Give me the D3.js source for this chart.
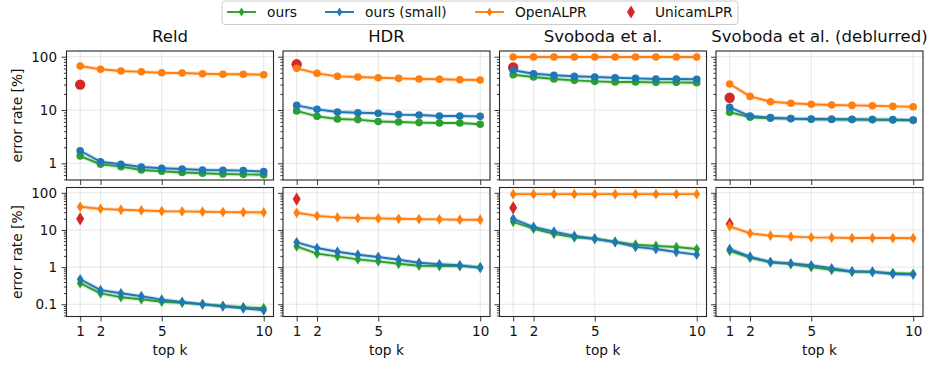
<!DOCTYPE html>
<html><head><meta charset="utf-8">
<script src="https://cdn.jsdelivr.net/npm/d3@7"></script>
<style>
body{margin:0;background:#fff;}
svg{display:block;font-family:"DejaVu Sans",sans-serif;}
</style></head>
<body><svg id="c" width="931" height="365"></svg>
<script>
const ks = [1,2,3,4,5,6,7,8,9,10];
const panelTitles = ["Reld","HDR","Svoboda et al.","Svoboda et al. (deblurred)"];
const seriesNames = ["ours","ours (small)","OpenALPR","UnicamLPR"];
const xTickValues = [1,2,5,10];
const yTickValuesTop = [1,10,100];
const yTickValuesBottom = [0.1,1,10,100];

// top row (circles)
const oursTop = [
  [1.37,0.96,0.865,0.75,0.71,0.67,0.65,0.63,0.62,0.61],
  [9.6,7.6,6.8,6.6,6.1,5.96,5.8,5.7,5.7,5.4],
  [45.9,41.6,38.2,36,34.5,33.5,33.5,33,33,32.5],
  [9.1,7.3,7.0,6.9,6.7,6.7,6.6,6.6,6.5,6.4]
];
const smallTop = [
  [1.72,1.07,0.96,0.85,0.81,0.78,0.75,0.74,0.73,0.70],
  [12.2,10.3,9.2,8.9,8.7,8.2,8.06,7.7,7.7,7.6],
  [55.6,48,44.8,42.9,41.6,40.4,39.3,38.2,38.2,37.7],
  [11.2,7.7,7.2,6.9,6.8,6.7,6.7,6.6,6.6,6.5]
];
const openTop = [
  [67,58,54,52,50,49.4,48,47,46.8,46],
  [60.5,48.8,42.8,41.6,40.4,39.3,38.2,37.7,37,36.6],
  [99,99,99,99,99,99,99,99,99,99],
  [30.8,18,14.3,13.4,12.8,12.4,12.2,12.05,11.7,11.5]
];
const unicamTop = [30,72,63,17];

// bottom row (diamonds)
const oursBot = [
  [0.37,0.197,0.155,0.136,0.117,0.11,0.10,0.09,0.083,0.078],
  [3.6,2.3,1.95,1.62,1.43,1.23,1.09,1.07,1.07,1.0],
  [16.6,10.8,7.9,6.3,5.8,4.8,4.0,3.7,3.47,3.06],
  [2.75,1.79,1.35,1.21,1.0,0.84,0.75,0.74,0.69,0.66]
];
const smallBot = [
  [0.47,0.24,0.197,0.164,0.133,0.115,0.10,0.088,0.078,0.069],
  [4.65,3.26,2.6,2.15,1.87,1.58,1.31,1.19,1.12,0.95],
  [20,12,9.0,6.9,5.8,4.7,3.5,3.06,2.55,2.16],
  [3.06,1.9,1.37,1.26,1.12,0.93,0.77,0.75,0.65,0.63]
];
const openBot = [
  [42,37,35,33.6,32,31.6,31,30.3,30,29.7],
  [29,24,21.8,20.9,20.5,20,19.6,19.3,18.8,18.8],
  [92,92,92,92,92,92,92,92,92,92],
  [12.5,8.1,7.0,6.6,6.3,6.2,6.05,6.05,6.05,6.0]
];
const unicamBot = [20,68,39.5,14.5];

const colors = {ours:"#2ca02c", small:"#1f77b4", open:"#ff7f0e", unicam:"#d62728"};

const svg = d3.select("#c");
const panelW = 207, panelStep = 216.5, panelX0 = 66.5;
const rows = [
  {y0:51, y1:180, dom:[0.486,128], ticks:yTickValuesTop, marker:"circle",
   ours:oursTop, small:smallTop, open:openTop, uni:unicamTop},
  {y0:187.5, y1:316.5, dom:[0.0468,139], ticks:yTickValuesBottom, marker:"diamond",
   ours:oursBot, small:smallBot, open:openBot, uni:unicamBot}
];
const fmt = v => (v >= 1 ? d3.format("d")(v) : String(v));
const diamond = (w,h) => `M0,${-h}L${w},0L0,${h}L${-w},0Z`;

function minorTicks(dom){
  const out=[];
  for(let e=-3;e<=3;e++){
    for(let m=2;m<=9;m++){
      const v=m*Math.pow(10,e);
      if(v>=dom[0]&&v<=dom[1]) out.push(v);
    }
  }
  return out;
}

rows.forEach((row, ri) => {
  for(let p=0;p<4;p++){
    const x0 = panelX0 + p*panelStep;
    const x = d3.scaleLinear().domain([0.33,10.48]).range([x0, x0+panelW]);
    const y = d3.scaleLog().domain(row.dom).range([row.y1, row.y0]);
    const g = svg.append("g");

    // grid
    g.append("g").selectAll("line").data(row.ticks).join("line")
      .attr("x1",x0).attr("x2",x0+panelW).attr("y1",d=>y(d)).attr("y2",d=>y(d))
      .attr("stroke","#b0b0b0").attr("stroke-opacity",0.35).attr("stroke-width",0.9);
    g.append("g").selectAll("line").data(xTickValues).join("line")
      .attr("y1",row.y0).attr("y2",row.y1).attr("x1",d=>x(d)).attr("x2",d=>x(d))
      .attr("stroke","#b0b0b0").attr("stroke-opacity",0.35).attr("stroke-width",0.9);

    // y axis
    const ya = d3.axisLeft(y).tickValues(row.ticks).tickSize(5).tickPadding(4.5)
      .tickFormat(p===0 ? fmt : () => "");
    const yag = g.append("g").attr("transform",`translate(${x0},0)`).call(ya);
    const ym = d3.axisLeft(y).tickValues(minorTicks(row.dom)).tickSize(2.6).tickFormat(()=>"");
    const ymg = g.append("g").attr("transform",`translate(${x0},0)`).call(ym);
    [yag,ymg].forEach(a=>{a.select(".domain").remove(); a.selectAll("line").attr("stroke","#222").attr("stroke-width",0.9);});
    yag.selectAll("text").attr("font-size","13.5px").attr("fill","#111").attr("font-family","DejaVu Sans");

    // x axis
    const xa = d3.axisBottom(x).tickValues(xTickValues).tickSize(5).tickPadding(4.5)
      .tickFormat(ri===1 ? d3.format("d") : () => "");
    const xag = g.append("g").attr("transform",`translate(0,${row.y1})`).call(xa);
    xag.select(".domain").remove();
    xag.selectAll("line").attr("stroke","#222").attr("stroke-width",0.9);
    xag.selectAll("text").attr("font-size","13.5px").attr("fill","#111").attr("font-family","DejaVu Sans");

    // series
    const line = d3.line().x((d,i)=>x(ks[i])).y(d=>y(d));
    const drawMarkers = (vals, col, big) => {
      if(row.marker==="circle"){
        g.append("g").selectAll("circle").data(vals).join("circle")
          .attr("cx",(d,i)=>x(ks[i])).attr("cy",d=>y(d)).attr("r", big?5.2:3.8).attr("fill",col);
      } else {
        g.append("g").selectAll("path").data(vals).join("path")
          .attr("transform",(d,i)=>`translate(${x(ks[i])},${y(d)})`)
          .attr("d", big ? diamond(4,6.6) : diamond(3.3,5.4)).attr("fill",col);
      }
    };
    // UnicamLPR first (underneath)
    drawMarkers([row.uni[p]], colors.unicam, true);
    [[row.ours[p],colors.ours],[row.small[p],colors.small],[row.open[p],colors.open]].forEach(([vals,col])=>{
      g.append("path").datum(vals).attr("d",line).attr("fill","none")
        .attr("stroke",col).attr("stroke-width",4.2).attr("stroke-opacity",0.22).attr("stroke-linejoin","round");
      g.append("path").datum(vals).attr("d",line).attr("fill","none")
        .attr("stroke",col).attr("stroke-width",1.9).attr("stroke-linejoin","round");
      drawMarkers(vals,col,false);
    });

    // frame
    g.append("rect").attr("x",x0).attr("y",row.y0).attr("width",panelW).attr("height",row.y1-row.y0)
      .attr("fill","none").attr("stroke","#262626").attr("stroke-width",1.1);

    if(ri===0){
      svg.append("text").attr("x",x0+panelW/2).attr("y",42).attr("text-anchor","middle")
        .attr("font-size","16.5px").attr("fill","#111").text(panelTitles[p]);
    }
    if(ri===1){
      svg.append("text").attr("x",x0+panelW/2).attr("y",355).attr("text-anchor","middle")
        .attr("font-size","13.75px").attr("fill","#111").text("top k");
    }
  }
  svg.append("text").attr("transform",`translate(22,${(row.y0+row.y1)/2}) rotate(-90)`)
    .attr("text-anchor","middle").attr("font-size","13.75px").attr("fill","#111").text("error rate [%]");
});

// legend
const lg = svg.append("g");
lg.append("rect").attr("x",222).attr("y",1).attr("width",516).attr("height",23.5).attr("rx",3)
  .attr("fill","#fff").attr("fill-opacity",0.85).attr("stroke","#cccccc").attr("stroke-width",1);
const legendItems = [
  {name:seriesNames[0], col:colors.ours, x:227, line:true},
  {name:seriesNames[1], col:colors.small, x:325, line:true},
  {name:seriesNames[2], col:colors.open, x:475, line:true},
  {name:seriesNames[3], col:colors.unicam, x:617, line:false}
];
legendItems.forEach(it=>{
  if(it.line){
    lg.append("line").attr("x1",it.x).attr("x2",it.x+29).attr("y1",12).attr("y2",12)
      .attr("stroke",it.col).attr("stroke-width",1.9);
    lg.append("path").attr("transform",`translate(${it.x+14.5},12)`).attr("d",diamond(2.8,4.6)).attr("fill",it.col);
  } else {
    lg.append("path").attr("transform",`translate(${it.x+14},12)`).attr("d",diamond(4,6.4)).attr("fill",it.col);
  }
  lg.append("text").attr("x",it.x+(it.line?40:38)).attr("y",17).attr("font-size","13.75px").attr("fill","#111").text(it.name);
});
</script></body></html>
